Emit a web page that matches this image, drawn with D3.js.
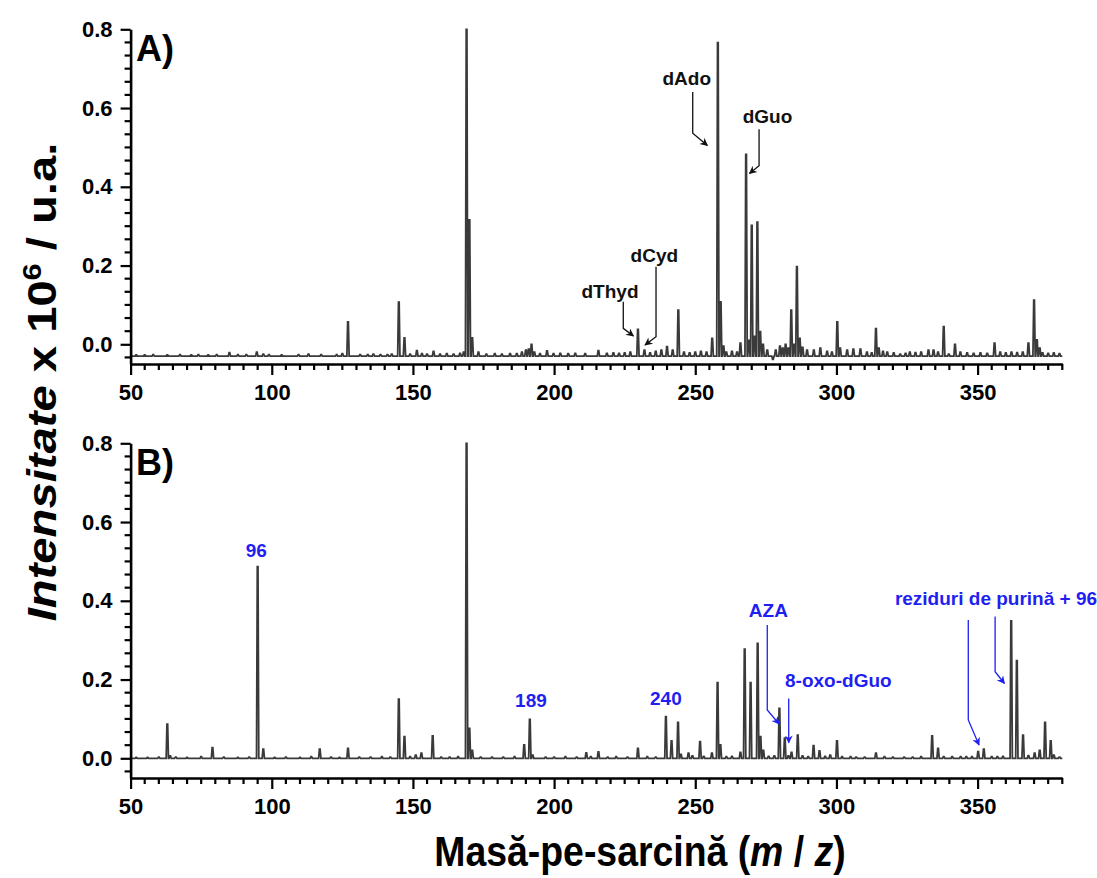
<!DOCTYPE html>
<html>
<head>
<meta charset="utf-8">
<script src="https://cdn.jsdelivr.net/npm/d3@7"></script>
<style>
  body { margin: 0; background: #fff; }
  text { font-family: "Liberation Sans", Arial, sans-serif; font-weight: bold; }
</style>
</head>
<body>
<svg id="chart" width="1097" height="878"></svg>
<script>
// ---- axis ticks ----
const mzTicks = [50, 100, 150, 200, 250, 300, 350];
const intensityTicks = [0.0, 0.2, 0.4, 0.6, 0.8];

// ---- spectrum A: main peaks [m/z, intensity x 10^6] ----
const peaksA = [
  [127, 0.057], [145, 0.107], [147, 0.016], [169, 0.80], [170, 0.316], [171, 0.016],
  [191, -0.012], [192, 0.0], [229.7, 0.038], [232, -0.015], [244, 0.087],
  [256, 0.015], [258, 0.766], [259, 0.108], [260, -0.005], [266, 0.003],
  [268, 0.482], [269, 0.01], [270, 0.302], [271, 0.02], [272, 0.31], [273, 0.032], [274, 0.0],
  [284, 0.087], [285, 0.0], [286, 0.197], [287, 0.015], [300.3, 0.057], [301.3, -0.01],
  [314, 0.04], [315, -0.01], [338, 0.045], [342, 0.0], [356, 0.003], [368, 0.003],
  [370, 0.112], [371, 0.011], [372, -0.01]
];
// small background signals of spectrum A
const noiseA = [
  [52, -0.027], [55, -0.027], [58, -0.026], [63, -0.027], [67.5, -0.026], [71.5, -0.027],
  [74, -0.026], [77.5, -0.027], [80.5, -0.026], [85, -0.021], [88, -0.026], [91, -0.026],
  [94.7, -0.02], [97, -0.025], [99, -0.026], [103.5, -0.027], [109.5, -0.026], [113, -0.025],
  [117.5, -0.026], [123, -0.026], [125, -0.024], [131.3, -0.026], [134, -0.026], [136, -0.025],
  [138.5, -0.026], [141, -0.026], [142.5, -0.025], [149, -0.025], [151.4, -0.016], [153.2, -0.024],
  [155, -0.025], [157.3, -0.018], [159.6, -0.025], [162, -0.024], [164.4, -0.025], [166.7, -0.023],
  [168, -0.02], [173.2, -0.02], [176, -0.025], [179, -0.024], [181.5, -0.025], [184.4, -0.024],
  [186.8, -0.024], [188.6, -0.02], [190, -0.015], [193, -0.02], [195, -0.024], [197.5, -0.017],
  [199.8, -0.024], [202.2, -0.023], [205, -0.024], [207.5, -0.023], [211, -0.024], [215.7, -0.016],
  [218.7, -0.023], [221, -0.022], [223, -0.023], [225, -0.022], [227, -0.02], [234, -0.022],
  [236, -0.018], [238, -0.015], [240, -0.006], [242, -0.015], [246, -0.02], [248, -0.022],
  [250, -0.02], [252, -0.018], [254, -0.02], [261, -0.02], [263, -0.018], [264.8, -0.02],
  [275.5, -0.015], [277.5, -0.038], [278.5, -0.015], [280, -0.005], [281, -0.01], [282, 0.0],
  [283, -0.01], [288, -0.008], [289.6, -0.015], [292, -0.015], [294.3, -0.01], [296.7, -0.018],
  [298.4, -0.02], [303.8, -0.015], [306, -0.012], [308.5, -0.012], [310.8, -0.02], [312.5, -0.022],
  [316.5, -0.018], [318, -0.02], [320.3, -0.022], [322.6, -0.025], [324.5, -0.023], [326, -0.02],
  [328, -0.021], [330, -0.02], [332.6, -0.015], [334.4, -0.015], [336, -0.02], [339.8, -0.025],
  [343.9, -0.02], [346.3, -0.022], [348.6, -0.023], [351, -0.022], [353.4, -0.023], [358, -0.02],
  [360, -0.022], [362, -0.02], [364, -0.021], [366, -0.02], [373, -0.022], [375, -0.023],
  [377, -0.022], [379, -0.024]
];
const baselineA = -0.03;

// ---- spectrum B ----
const peaksB = [
  [63, 0.087], [64, 0.006], [79, 0.027], [95, 0.487], [97, 0.023], [117, 0.023], [127, 0.025],
  [145, 0.15], [147, 0.055], [151, 0.008], [153, 0.013], [157, 0.057], [169, 0.80], [170, 0.076],
  [171, 0.02], [189.4, 0.034], [191.4, 0.099], [192.4, 0.008], [211.4, 0.014], [215.7, 0.016],
  [229.7, 0.025], [239.6, 0.106], [241.6, 0.044], [243.9, 0.091], [244.9, 0.01], [247.6, 0.013],
  [251.7, 0.042], [255.9, 0.013], [257.9, 0.192], [258.9, 0.034], [266, 0.015], [267.5, 0.277],
  [269.6, 0.192], [272.1, 0.292], [273.1, 0.055], [274.1, 0.02], [279.8, 0.127], [281.7, 0.051],
  [284.1, 0.015], [286.3, 0.059], [291.9, 0.032], [294, 0.019], [297.8, 0.008], [300.2, 0.044],
  [314, 0.013], [333.9, 0.057], [336, 0.025], [350.2, 0.017], [352.2, 0.023], [361.9, 0.349],
  [363.9, 0.248], [366.1, 0.059], [370.2, 0.013], [372, 0.02], [373.9, 0.091], [375.9, 0.044],
  [377, 0.008]
];
const noiseB = [
  [52, 0.002], [56, 0.002], [60, 0.003], [66, 0.003], [70, 0.002], [75, 0.004], [83, 0.003],
  [88, 0.002], [92, 0.003], [101, 0.002], [105, 0.003], [110, 0.002], [114, 0.004], [121, 0.003],
  [124, 0.002], [131, 0.003], [135, 0.003], [139, 0.004], [142, 0.003], [149, 0.004], [160, 0.003],
  [163, 0.003], [166, 0.004], [174, 0.003], [178, 0.003], [182, 0.003], [186, 0.004], [197, 0.003],
  [200, 0.003], [204, 0.004], [208, 0.003], [213, 0.004], [219, 0.003], [222, 0.004], [226, 0.003],
  [233, 0.004], [236, 0.003], [249, 0.006], [253, 0.005], [261, 0.004], [263, 0.005], [276, 0.005],
  [278, 0.006], [283, 0.006], [288, 0.006], [290, 0.004], [296, 0.005], [302, 0.004], [305, 0.004],
  [307, 0.003], [310, 0.003], [317, 0.004], [320, 0.003], [324, 0.003], [327, 0.003], [330, 0.004],
  [338, 0.004], [341, 0.004], [344, 0.004], [346, 0.004], [348, 0.004], [355, 0.004], [357, 0.004],
  [359, 0.005], [368, 0.007], [379, 0.003]
];
const baselineB = 0.0;

// ---- annotation names ----
const namesA = ["dAdo", "dGuo", "dCyd", "dThyd"];
const namesB = ["96", "189", "240", "AZA", "8-oxo-dGuo", "reziduri de purină + 96"];

// ---- layout ----
const svg = d3.select("#chart");
const xLeft = 130.6, xRight = 1062.3;
const yDomain = [-0.05, 0.8];
const blue = "#1f1ff2";
const panels = [
  { id: "A", top: 29.3, zero: 344.3, peaks: peaksA, noise: noiseA, base: baselineA },
  { id: "B", top: 443.3, zero: 758.3, peaks: peaksB, noise: noiseB, base: baselineB }
];

const x = d3.scaleLinear().domain([50, 380]).range([xLeft, xRight]);

const defs = svg.append("defs");
[["headK", "#111"], ["headB", blue]].forEach(([id, c]) => {
  defs.append("marker").attr("id", id)
    .attr("viewBox", "0 0 10 10").attr("refX", 9).attr("refY", 5)
    .attr("markerWidth", 9).attr("markerHeight", 8).attr("markerUnits", "userSpaceOnUse")
    .attr("orient", "auto")
    .append("path").attr("d", "M0,0 L10,5 L0,10 L3,5 Z").attr("fill", c);
});

panels.forEach(p => {
  const pxPerUnit = (p.zero - p.top) / 0.8;
  const y = d3.scaleLinear().domain(yDomain)
    .range([p.zero + 0.05 * pxPerUnit, p.top]);
  p.y = y;
  const g = svg.append("g");

  // spectrum trace
  const all = p.peaks.concat(p.noise).sort((a, b) => a[0] - b[0]);
  const pts = [[50, p.base]];
  all.forEach(([m, v]) => {
    pts.push([m - 0.4, p.base], [m - 0.12, v], [m + 0.12, v], [m + 0.4, p.base]);
  });
  pts.push([380, p.base]);
  g.append("path")
    .attr("d", d3.line().x(d => x(d[0])).y(d => y(d[1]))(pts))
    .attr("fill", "none").attr("stroke", "#3a3a3a").attr("stroke-width", 1.8)
    .attr("stroke-linejoin", "miter");

  // y axis
  const yAxis = g.append("g").attr("transform", `translate(${xLeft},0)`)
    .call(d3.axisLeft(y).tickValues(intensityTicks).tickSize(10).tickSizeOuter(0)
      .tickPadding(8).tickFormat(d3.format(".1f")));
  const minorY = d3.range(-1, 25).map(k => k * 0.2 / 6).filter((d, i) => (i - 1) % 6 !== 0);
  yAxis.selectAll(".minor").data(minorY).enter().append("line").attr("class", "minor")
    .attr("x1", 0).attr("x2", -6).attr("y1", d => y(d)).attr("y2", d => y(d));

  // x axis
  const xAxis = g.append("g").attr("transform", `translate(0,${y(yDomain[0])})`)
    .call(d3.axisBottom(x).tickValues(mzTicks).tickSize(11).tickSizeOuter(0)
      .tickPadding(9).tickFormat(d3.format("d")));
  const minorX = d3.range(55, 381, 5).filter(d => d % 50 !== 0);
  xAxis.selectAll(".minor").data(minorX).enter().append("line").attr("class", "minor")
    .attr("y1", 0).attr("y2", 6).attr("x1", d => x(d)).attr("x2", d => x(d));

  [yAxis, xAxis].forEach(ax => {
    ax.select(".domain").attr("stroke", "#000").attr("stroke-width", 2.6);
    ax.selectAll("line").attr("stroke", "#000").attr("stroke-width", 2.2);
    ax.selectAll("text").attr("fill", "#000").attr("font-size", 22)
      .attr("font-family", '"Liberation Sans", Arial, sans-serif').attr("font-weight", "bold");
  });

  // panel letter
  g.append("text").attr("x", 136).attr("y", p.top + 32)
    .attr("font-size", 36).attr("fill", "#000").text(p.id + ")");
});

// ---- annotations ----
function label(p, txt, mz, v, anchor, color) {
  svg.append("text").attr("x", x(mz)).attr("y", p.y(v))
    .attr("text-anchor", anchor).attr("font-size", 19).attr("fill", color).text(txt);
}
function arrow(p, path, color, head) {
  svg.append("path")
    .attr("d", d3.line().x(d => x(d[0])).y(d => p.y(d[1]))(path))
    .attr("fill", "none").attr("stroke", color).attr("stroke-width", 1.3)
    .attr("marker-end", `url(#${head})`);
}
const A = panels[0], B = panels[1];

label(A, namesA[0], 247.0, 0.6585, "middle", "#111");
arrow(A, [[249.1, 0.641], [249.1, 0.536], [254.3, 0.505]], "#111", "headK");
label(A, namesA[1], 275.6, 0.561, "middle", "#111");
arrow(A, [[272.6, 0.546], [272.6, 0.4536], [269.2, 0.434]], "#111", "headK");
label(A, namesA[2], 235.5, 0.2098, "middle", "#111");
arrow(A, [[236.1, 0.197], [236.1, 0.0193], [232.2, -0.0018]], "#111", "headK");
label(A, namesA[3], 219.8, 0.1168, "middle", "#111");
arrow(A, [[224.5, 0.108], [224.5, 0.0406], [228.1, 0.021]], "#111", "headK");

label(B, namesB[0], 94.5, 0.512, "middle", blue);
label(B, namesB[1], 191.8, 0.1295, "middle", blue);
label(B, namesB[2], 239.6, 0.135, "middle", blue);
label(B, namesB[3], 275.9, 0.358, "middle", blue);
arrow(B, [[275.5, 0.3385], [275.5, 0.1227], [279.7, 0.0871]], blue, "headB");
label(B, namesB[4], 281.8, 0.180, "start", blue);
arrow(B, [[283.1, 0.152], [283.1, 0.0396]], blue, "headB");
label(B, namesB[5], 320.7, 0.389, "start", blue);
arrow(B, [[346.7, 0.351], [346.7, 0.0973], [350.5, 0.0338]], blue, "headB");
arrow(B, [[356.2, 0.36], [356.2, 0.22], [359.5, 0.19]], blue, "headB");

// ---- axis titles ----
const yTitle = svg.append("text")
  .attr("transform", "translate(56,382) rotate(-90) scale(1.18,1)")
  .attr("text-anchor", "middle").attr("font-size", 40).attr("fill", "#000");
yTitle.append("tspan").attr("font-style", "italic").text("Intensitate");
yTitle.append("tspan").attr("font-style", "normal").text(" x 10");
yTitle.append("tspan").attr("font-style", "normal").attr("font-size", 26).attr("dy", -15).text("6");
yTitle.append("tspan").attr("font-style", "normal").attr("dy", 15).text(" / u.a.");

const xTitle = svg.append("text")
  .attr("transform", "translate(640,866) scale(0.89,1)")
  .attr("text-anchor", "middle").attr("font-size", 42).attr("fill", "#000");
xTitle.append("tspan").text("Masă-pe-sarcină (");
xTitle.append("tspan").attr("font-style", "italic").text("m");
xTitle.append("tspan").text(" / ");
xTitle.append("tspan").attr("font-style", "italic").text("z");
xTitle.append("tspan").text(")");
</script>
</body>
</html>
